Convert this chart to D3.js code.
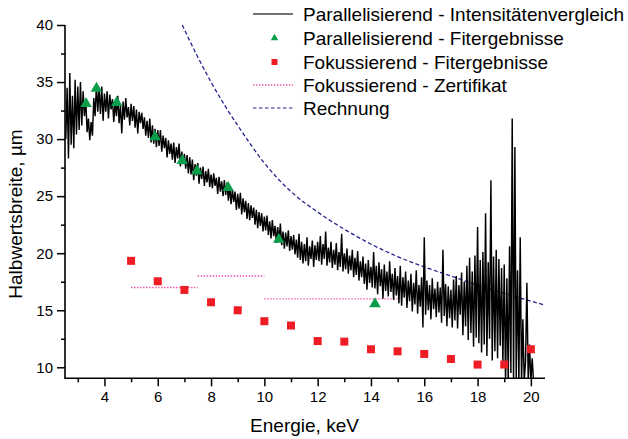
<!DOCTYPE html>
<html><head><meta charset="utf-8">
<script src="https://cdn.jsdelivr.net/npm/d3@7"></script>
<style>body{margin:0;background:#fff} svg{display:block} text{font-family:"Liberation Sans",Arial,sans-serif;fill:#000}</style>
</head><body><svg id="c" width="628" height="439"></svg>
<script>
// ---------- data ----------
const energyTicks = [4, 6, 8, 10, 12, 14, 16, 18, 20];
const energyMinorTicks = [3, 5, 7, 9, 11, 13, 15, 17, 19];
const widthTicks = [10, 15, 20, 25, 30, 35, 40];
const widthMinorTicks = [12.5, 17.5, 22.5, 27.5, 32.5, 37.5];

// Parallelisierend - Intensitätenvergleich : sampled every 0.05 keV from 2.55 keV
const intensityStartE = 2.55, intensityStepE = 0.05;
const intensityWidth = [
  // 2.55 - 3.00
  30.0, 34.5, 28.3, 35.8, 29.5, 33.8, 29.2, 35.2, 30.4, 34.6,
  // 3.05 - 4.00
  30.8, 35.0, 31.2, 34.2, 32.0, 33.4, 30.6, 31.8, 29.9, 31.5, 30.3, 33.6, 32.0, 34.8, 32.4, 34.5, 32.2, 34.6, 31.6, 34.0,
  // 4.05 - 5.00
  32.4, 34.2, 31.8, 33.9, 32.6, 33.5, 31.5, 33.2, 32.0, 33.8, 31.4, 33.0, 30.5, 33.3, 31.7, 33.6, 31.9, 32.8, 31.2, 33.1,
  // 5.05 - 6.00
  31.6, 32.9, 31.0, 32.6, 30.5, 32.4, 31.4, 32.3, 30.9, 31.9, 30.3, 31.6, 30.1, 31.8, 29.7, 31.2, 29.6, 30.9, 29.3, 30.8,
  // 6.05 - 7.00
  29.4, 30.8, 28.9, 30.3, 29.2, 30.1, 28.4, 29.9, 28.7, 29.6, 28.2, 29.7, 27.9, 29.3, 28.3, 29.6, 27.6, 28.9, 27.8, 28.7,
  // 7.05 - 8.00
  27.4, 28.6, 27.0, 28.4, 26.9, 28.2, 26.4, 27.8, 26.8, 27.9, 26.1, 27.5, 26.5, 27.6, 25.9, 27.2, 26.2, 27.4, 25.8, 26.9,
  // 8.05 - 9.00
  25.7, 27.0, 25.9, 26.6, 25.2, 26.7, 25.4, 26.3, 25.0, 26.4, 25.1, 26.2, 24.6, 25.9, 24.3, 25.6, 24.5, 25.4, 23.8, 25.2,
  // 9.05 - 10.00
  23.9, 25.3, 23.4, 24.8, 23.6, 24.6, 23.0, 24.4, 22.9, 24.2, 23.1, 24.0, 22.5, 23.8, 22.2, 23.6, 22.4, 23.5, 21.9, 23.2,
  // 10.05 - 11.00
  22.0, 23.3, 21.6, 22.8, 21.3, 22.9, 21.5, 22.4, 20.9, 22.3, 21.0, 22.6, 20.7, 21.9, 20.4, 21.8, 20.6, 22.0, 20.2, 21.5,
  // 11.05 - 12.00
  20.3, 21.6, 19.9, 21.2, 19.6, 21.7, 19.4, 21.0, 19.1, 20.8, 19.3, 21.4, 18.9, 20.6, 19.5, 21.1, 18.8, 20.7, 19.4, 21.0,
  // 12.05 - 13.00
  19.3, 21.5, 19.0, 20.8, 19.5, 21.9, 18.9, 20.5, 19.2, 21.0, 18.7, 20.3, 19.0, 20.9, 18.5, 20.1, 18.8, 21.7, 18.4, 20.0,
  // 13.05 - 14.00
  18.6, 20.4, 18.2, 19.8, 18.5, 20.3, 17.9, 19.6, 18.1, 20.2, 17.6, 19.3, 17.9, 19.7, 17.3, 19.1, 16.8, 19.4, 17.4, 18.8,
  // 14.05 - 15.00
  17.0, 20.1, 16.9, 18.9, 16.4, 19.2, 17.1, 18.6, 16.0, 19.0, 16.7, 18.4, 16.2, 19.3, 16.6, 18.2, 15.9, 18.7, 16.3, 18.0,
  // 15.05 - 16.00
  15.6, 18.9, 15.4, 17.9, 16.1, 18.4, 15.2, 17.6, 15.8, 18.2, 14.9, 17.4, 15.5, 18.5, 14.7, 17.2, 15.3, 17.9, 13.5, 21.4,
  // 16.05 - 17.00
  14.6, 17.6, 15.0, 17.2, 14.2, 17.8, 15.1, 16.9, 14.4, 17.5, 14.8, 17.0, 13.9, 20.3, 14.5, 17.3, 13.6, 17.1, 14.3, 16.8,
  // 17.05 - 18.00
  13.5, 17.7, 14.1, 18.0, 13.4, 17.2, 14.6, 18.3, 12.8, 17.5, 13.6, 18.9, 12.4, 19.6, 13.0, 18.4, 11.8, 19.8, 12.6, 22.3,
  // 18.05 - 19.00
  12.1, 19.4, 11.3, 20.1, 12.0, 23.5, 11.0, 19.2, 12.5, 26.4, 10.6, 19.7, 11.4, 20.3, 10.8, 19.5, 11.9, 18.7, 10.2, 19.0,
  // 19.05 - 20.10
  8.5, 17.8, 8.7, 20.6, 9.5, 31.8, 8.6, 29.3, 9.0, 18.5, 8.6, 21.4, 8.7, 14.2, 8.8, 10.5, 17.4, 8.8, 12.0, 8.7, 10.8, 8.7
];

// Parallelisierend - Fitergebnisse
const parFitE = [3.31, 3.70, 4.46, 5.90, 6.92, 7.47, 8.64, 10.54, 14.15];
const parFitW = [33.1, 34.45, 33.2, 30.2, 28.1, 27.2, 25.75, 21.2, 15.55];

// Fokussierend - Fitergebnisse
const focFitE = [5, 6, 7, 8, 9, 10, 11, 12, 13, 14, 15, 16, 17, 18, 19, 20];
const focFitW = [19.33, 17.54, 16.78, 15.7, 15.0, 14.04, 13.66, 12.3, 12.25, 11.58, 11.4, 11.17, 10.73, 10.24, 10.24, 11.58];

// Fokussierend - Zertifikat (ranges)
const certStartE = [5, 7.5, 10];
const certEndE = [7.5, 10, 15];
const certW = [17, 18, 16];

// Rechnung
const calcE = [6.92, 7.5, 8.0, 8.5, 9.0, 10.0, 11.0, 12.0, 13.0, 14.0, 15.0, 16.0, 17.0, 18.0, 19.0, 20.0, 20.53];
const calcW = [40.0, 37.2, 35.0, 33.0, 31.2, 27.9, 25.4, 23.6, 22.1, 20.8, 19.7, 18.8, 18.0, 17.2, 16.5, 15.8, 15.45];

const legendLabels = [
  "Parallelisierend - Intensitätenvergleich",
  "Parallelisierend - Fitergebnisse",
  "Fokussierend - Fitergebnisse",
  "Fokussierend - Zertifikat",
  "Rechnung"
];
const xTitle = "Energie, keV";
const yTitle = "Halbwertsbreite, µm";

// ---------- styles ----------
const C_LINE = "#000", C_TRI = "#0a9e4b", C_SQ = "#ee1c25", C_CERT = "#ee4fa6", C_CALC = "#24248f";

// ---------- chart ----------
const svg = d3.select("#c");
const L = 65, R = 545, T = 25, B = 378.3;
const x = d3.scaleLinear().domain([2.52, 20.53]).range([L, R]);
const y = d3.scaleLinear().domain([9.036, 40]).range([B, T]);

svg.append("defs").append("clipPath").attr("id", "clip")
  .append("rect").attr("x", L).attr("y", T - 1).attr("width", R - L).attr("height", B - T + 1);

const plot = svg.append("g").attr("clip-path", "url(#clip)");

// Rechnung
plot.append("path")
  .datum(calcE.map((e, i) => [e, calcW[i]]))
  .attr("d", d3.line().x(d => x(d[0])).y(d => y(d[1])).curve(d3.curveMonotoneX))
  .attr("fill", "none").attr("stroke", C_CALC).attr("stroke-width", 1.3)
  .attr("stroke-dasharray", "4 2.5");

// Zertifikat
plot.selectAll("line.cert").data(certW).enter().append("line")
  .attr("x1", (d, i) => x(certStartE[i])).attr("x2", (d, i) => x(certEndE[i]))
  .attr("y1", d => y(d)).attr("y2", d => y(d))
  .attr("stroke", C_CERT).attr("stroke-width", 1.4).attr("stroke-dasharray", "1.4 1.6");

// Intensitätenvergleich
plot.append("path")
  .datum(intensityWidth.map((w, i) => [intensityStartE + i * intensityStepE, w]))
  .attr("d", d3.line().x(d => x(d[0])).y(d => y(d[1])))
  .attr("fill", "none").attr("stroke", C_LINE).attr("stroke-width", 1.45)
  .attr("stroke-linejoin", "miter");

// Fokussierend squares
plot.selectAll("rect.sq").data(focFitE).enter().append("rect")
  .attr("x", (d) => x(d) - 4).attr("y", (d, i) => y(focFitW[i]) - 4)
  .attr("width", 8).attr("height", 8).attr("fill", C_SQ);

// Parallel triangles
plot.selectAll("path.tri").data(parFitE).enter().append("path")
  .attr("transform", (d, i) => `translate(${x(d)},${y(parFitW[i])})`)
  .attr("d", d3.symbol(d3.symbolTriangle, 58)).attr("fill", C_TRI);

// ---------- axes ----------
const fontTick = 15;
const xAxis = svg.append("g").attr("transform", `translate(0,${B})`)
  .call(d3.axisBottom(x).tickValues(energyTicks).tickSize(8).tickSizeOuter(0).tickPadding(5).tickFormat(d3.format("d")));
const xMinor = svg.append("g").attr("transform", `translate(0,${B})`)
  .call(d3.axisBottom(x).tickValues(energyMinorTicks).tickSize(4).tickSizeOuter(0).tickFormat(""));
const yAxis = svg.append("g").attr("transform", `translate(${L},0)`)
  .call(d3.axisLeft(y).tickValues(widthTicks).tickSize(8).tickSizeOuter(0).tickPadding(4).tickFormat(d3.format("d")));
const yMinor = svg.append("g").attr("transform", `translate(${L},0)`)
  .call(d3.axisLeft(y).tickValues(widthMinorTicks).tickSize(4).tickSizeOuter(0).tickFormat(""));
[xAxis, xMinor, yAxis, yMinor].forEach(g => {
  g.select(".domain").remove();
  g.selectAll(".tick line").attr("stroke", "#000").attr("stroke-width", 1.5);
  g.selectAll(".tick text").attr("font-size", fontTick).attr("font-family", "Liberation Sans, Arial, sans-serif").attr("fill", "#000");
});
// axis lines
svg.append("path").attr("d", `M${L},${T}V${B}H${R}`).attr("fill", "none").attr("stroke", "#000").attr("stroke-width", 1.6);

// axis titles
svg.append("text").attr("x", 304.5).attr("y", 432).attr("text-anchor", "middle").attr("font-size", 19).text(xTitle);
svg.append("text").attr("transform", "translate(21.5,214) rotate(-90)").attr("text-anchor", "middle").attr("font-size", 19).text(yTitle);

// ---------- legend ----------
const legY = [14, 38, 62, 85, 108];
const lg = svg.append("g");
lg.selectAll("text").data(legendLabels).enter().append("text")
  .attr("x", 303).attr("y", (d, i) => legY[i]).attr("dy", "0.35em")
  .attr("font-size", 19).text(d => d);
lg.append("line").attr("x1", 253).attr("x2", 293).attr("y1", legY[0]).attr("y2", legY[0])
  .attr("stroke", "#444").attr("stroke-width", 1.3);
lg.append("path").attr("transform", `translate(274.5,${legY[1]})`)
  .attr("d", d3.symbol(d3.symbolTriangle, 24)).attr("fill", C_TRI);
lg.append("rect").attr("x", 271.5).attr("y", legY[2] - 3).attr("width", 6).attr("height", 6).attr("fill", C_SQ);
lg.append("line").attr("x1", 253).attr("x2", 293).attr("y1", legY[3]).attr("y2", legY[3])
  .attr("stroke", C_CERT).attr("stroke-width", 1.3).attr("stroke-dasharray", "1.4 1.6");
lg.append("line").attr("x1", 253).attr("x2", 293).attr("y1", legY[4]).attr("y2", legY[4])
  .attr("stroke", C_CALC).attr("stroke-width", 1.2).attr("stroke-dasharray", "3.5 2.5");
</script></body></html>
